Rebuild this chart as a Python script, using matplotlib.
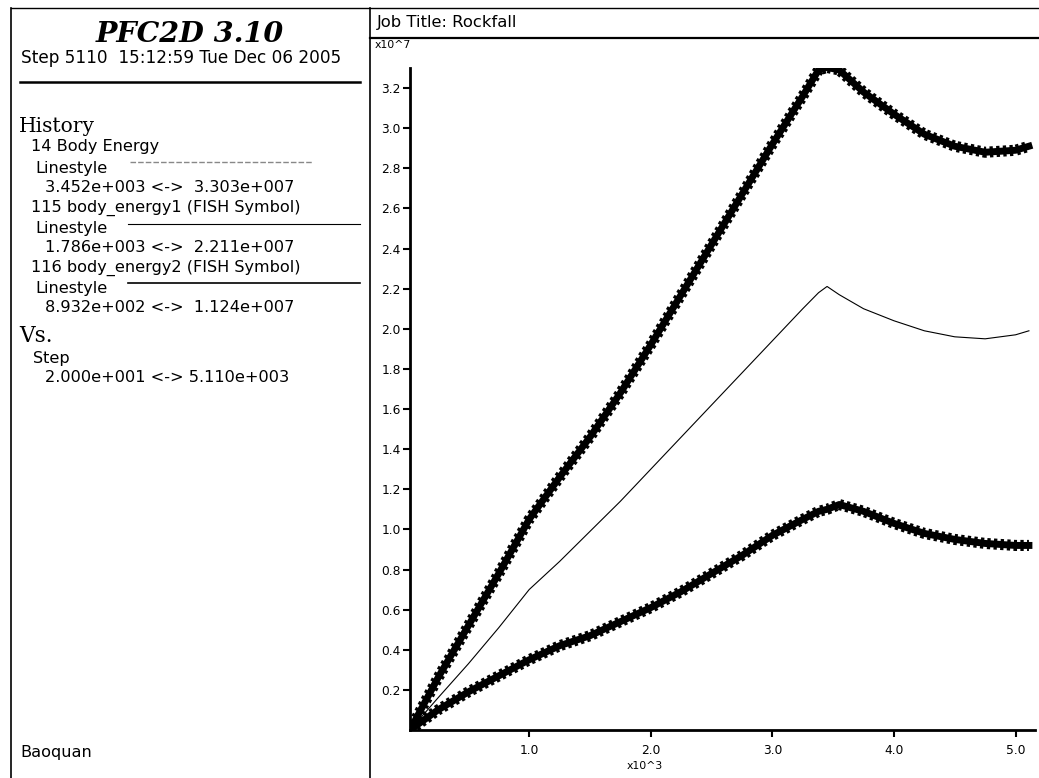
import matplotlib
matplotlib.use("Agg")
import matplotlib.pyplot as plt
from matplotlib.lines import Line2D

# ---------------- data (x in 1e3 steps, y in 1e7) ----------------
step_k = [0.02, 0.25, 0.5, 0.75, 1.0, 1.25, 1.5, 1.75, 2.0, 2.25, 2.5, 2.75,
          3.0, 3.25, 3.38, 3.45, 3.55, 3.75, 4.0, 4.25, 4.5, 4.75, 5.0, 5.11]
body_energy = [0.0, 0.26, 0.52, 0.78, 1.05, 1.26, 1.46, 1.68, 1.92, 2.17, 2.42, 2.67,
               2.92, 3.16, 3.29, 3.303, 3.29, 3.18, 3.07, 2.97, 2.91, 2.88, 2.89, 2.91]
body_energy1 = [0.0, 0.16, 0.33, 0.51, 0.70, 0.84, 0.99, 1.14, 1.30, 1.46, 1.62, 1.78,
                1.94, 2.10, 2.18, 2.211, 2.17, 2.10, 2.04, 1.99, 1.96, 1.95, 1.97, 1.99]
body_energy2 = [0.0, 0.10, 0.19, 0.27, 0.35, 0.42, 0.47, 0.54, 0.61, 0.69, 0.78, 0.87,
                0.97, 1.05, 1.09, 1.10, 1.124, 1.09, 1.03, 0.98, 0.95, 0.93, 0.92, 0.92]

y_ticks = [0.2, 0.4, 0.6, 0.8, 1.0, 1.2, 1.4, 1.6, 1.8, 2.0, 2.2, 2.4, 2.6, 2.8, 3.0, 3.2]
x_ticks = [1.0, 2.0, 3.0, 4.0, 5.0]

W, H = 1039, 778
fig = plt.figure(figsize=(W / 100, H / 100), dpi=100)
fig.patch.set_facecolor("white")


def fx(x):
    return x / W


def fy(y):
    return 1 - y / H


def hline(x0, x1, y, lw=1.0, color="black", ls="-"):
    fig.add_artist(Line2D([fx(x0), fx(x1)], [fy(y), fy(y)], lw=lw, color=color, ls=ls,
                          transform=fig.transFigure))


def vline(x, y0, y1, lw=1.0, color="black"):
    fig.add_artist(Line2D([fx(x), fx(x)], [fy(y0), fy(y1)], lw=lw, color=color,
                          transform=fig.transFigure))


# frame lines
vline(11, 8, 778, lw=1.2)
vline(370, 8, 778, lw=1.2)
hline(11, 1039, 8, lw=1.0)
hline(370, 1039, 38, lw=1.6)

sans = ["DejaVu Sans"]
serif = ["DejaVu Serif"]
fs = 11.6

# ---------------- left panel ----------------
fig.text(fx(190), fy(35), "PFC2D 3.10", family=serif, fontsize=20.5, fontweight="bold",
         fontstyle="italic", ha="center", va="center")
fig.text(fx(21), fy(58), "Step 5110  15:12:59 Tue Dec 06 2005", family=sans, fontsize=12.2,
         ha="left", va="center")
hline(20, 360, 82, lw=1.8)

fig.text(fx(19), fy(126), "History", family=serif, fontsize=14.5, ha="left", va="center")
fig.text(fx(31), fy(147), "14 Body Energy", family=sans, fontsize=fs, ha="left", va="center")
fig.text(fx(35), fy(168), "Linestyle", family=sans, fontsize=fs, ha="left", va="center")
hline(130, 312, 162, lw=1.0, color="#888888", ls=(0, (4, 1.5)))
fig.text(fx(45), fy(188), "3.452e+003 <->  3.303e+007", family=sans, fontsize=fs,
         ha="left", va="center")
fig.text(fx(31), fy(208), "115 body_energy1 (FISH Symbol)", family=sans, fontsize=fs,
         ha="left", va="center")
fig.text(fx(35), fy(228), "Linestyle", family=sans, fontsize=fs, ha="left", va="center")
hline(128, 360, 224, lw=0.8)
fig.text(fx(45), fy(248), "1.786e+003 <->  2.211e+007", family=sans, fontsize=fs,
         ha="left", va="center")
fig.text(fx(31), fy(268), "116 body_energy2 (FISH Symbol)", family=sans, fontsize=fs,
         ha="left", va="center")
fig.text(fx(35), fy(288), "Linestyle", family=sans, fontsize=fs, ha="left", va="center")
hline(128, 360, 283, lw=1.2)
fig.text(fx(45), fy(308), "8.932e+002 <->  1.124e+007", family=sans, fontsize=fs,
         ha="left", va="center")
fig.text(fx(19), fy(336), "Vs.", family=serif, fontsize=15.5, ha="left", va="center")
fig.text(fx(33), fy(358), "Step", family=sans, fontsize=fs, ha="left", va="center")
fig.text(fx(45), fy(378), "2.000e+001 <-> 5.110e+003", family=sans, fontsize=fs,
         ha="left", va="center")
fig.text(fx(20), fy(752), "Baoquan", family=sans, fontsize=fs, ha="left", va="center")

# ---------------- right panel ----------------
fig.text(fx(377), fy(22), "Job Title: Rockfall", family=sans, fontsize=11.8,
         ha="left", va="center")
fig.text(fx(375), fy(45), "x10^7", family=sans, fontsize=7.8, ha="left", va="center")
fig.text(fx(645), fy(766), "x10^3", family=sans, fontsize=7.8, ha="center", va="center")

left, right, top, bottom = 410, 1035, 68, 730
ax = fig.add_axes([fx(left), fy(bottom), fx(right) - fx(left), fy(top) - fy(bottom)])
ax.set_xlim(0.02, 5.16)
ax.set_ylim(0.0, 3.30)
for s in ("top", "right"):
    ax.spines[s].set_visible(False)
for s in ("left", "bottom"):
    ax.spines[s].set_linewidth(2.0)
ax.set_xticks(x_ticks)
ax.set_yticks(y_ticks)
ax.set_xticklabels([f"{v:.1f}" for v in x_ticks], fontsize=8.8, family=sans)
ax.set_yticklabels([f"{v:.1f}" for v in y_ticks], fontsize=8.8, family=sans)
ax.tick_params(axis="both", direction="out", length=5, width=1.5, pad=1.5)
ax.tick_params(axis="x", pad=5)

# thick hatched curves
for ys in (body_energy, body_energy2):
    ax.plot(step_k, ys, color="black", lw=5, solid_joinstyle="round", zorder=3)
    ax.plot(step_k, ys, color="black", lw=8, ls=(0, (0.3, 0.3)), zorder=3)
ax.plot(step_k, body_energy1, color="black", lw=0.8, zorder=4)

fig.savefig("out.png", dpi=100)
